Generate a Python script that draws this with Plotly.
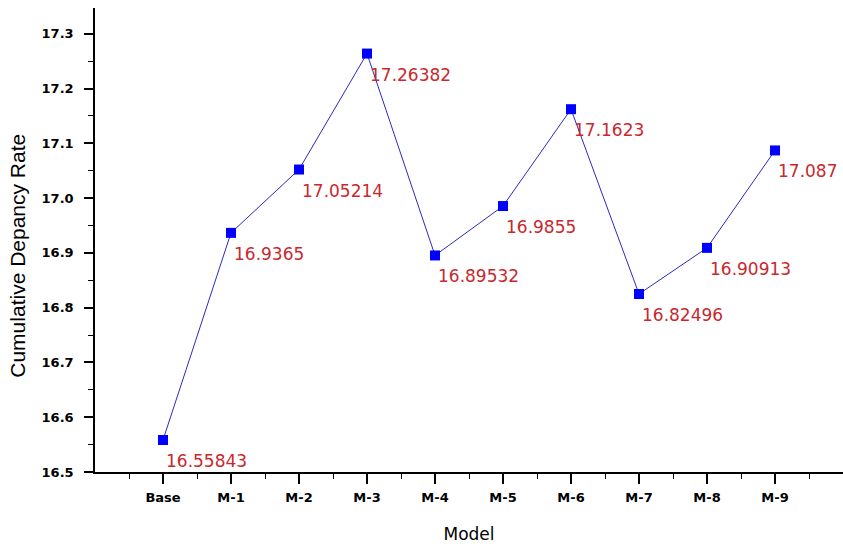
import plotly.graph_objects as go

categories = ["Base", "M-1", "M-2", "M-3", "M-4", "M-5", "M-6", "M-7", "M-8", "M-9"]
values = [16.55843, 16.9365, 17.05214, 17.26382, 16.89532, 16.9855, 17.1623, 16.82496, 16.90913, 17.087]
labels = ["16.55843", "16.9365", "17.05214", "17.26382", "16.89532", "16.9855", "17.1623", "16.82496", "16.90913", "17.087"]
y_ticks = [16.5, 16.6, 16.7, 16.8, 16.9, 17.0, 17.1, 17.2, 17.3]
y_title = "Cumulative Depancy Rate"

xpos = list(range(len(categories)))

fig = go.Figure()
fig.add_trace(go.Scatter(
    x=xpos, y=values, mode="lines+markers",
    line=dict(color="#2a2ac0", width=1),
    marker=dict(symbol="square", size=10, color="#0000ff"),
    showlegend=False,
))

for xi, v, t in zip(xpos, values, labels):
    fig.add_annotation(x=xi, y=v, text=t, showarrow=False,
                       xanchor="left", yanchor="top", xshift=1, yshift=-9,
                       font=dict(family="DejaVu Sans", size=17, color="#c8282d"))

fig.add_annotation(x=-0.103, y=0.466, xref="paper", yref="paper", text=y_title,
                   textangle=-90, showarrow=False, xanchor="center", yanchor="middle",
                   font=dict(family="Liberation Sans, Arial", size=21, color="black"))

fig.update_layout(
    width=843, height=544,
    margin=dict(l=95, r=0, t=8, b=72),
    plot_bgcolor="white", paper_bgcolor="white",
    font=dict(family="Liberation Sans, Arial", color="black"),
)
fig.update_xaxes(
    range=[-1, 10], tickmode="array", tickvals=xpos, ticktext=categories,
    showgrid=False, zeroline=False, showline=True, linecolor="black", linewidth=1.5,
    ticks="outside", ticklen=10, tickwidth=1.5, tickcolor="black",
    ticklabelstandoff=3,
    tickfont=dict(family="DejaVu Sans", size=13, weight="bold"),
    minor=dict(tickvals=[x - 0.5 for x in range(0, 12)], ticks="outside", ticklen=5, tickwidth=1, tickcolor="black", showgrid=False),
    title=dict(text="Model", font=dict(family="DejaVu Sans", size=17), standoff=24),
    automargin=False,
)
fig.update_yaxes(
    range=[16.5, 17.347], tickmode="array", tickvals=y_ticks,
    ticktext=[f"{v:.1f}" for v in y_ticks],
    showgrid=False, zeroline=False, showline=True, linecolor="black", linewidth=1.5,
    ticks="outside", ticklen=9, tickwidth=1.5, tickcolor="black",
    ticklabelstandoff=8,
    tickfont=dict(family="DejaVu Sans", size=13, weight="bold"),
    minor=dict(tickvals=[16.55 + 0.1 * i for i in range(8)], ticks="outside", ticklen=5, tickwidth=1, tickcolor="black", showgrid=False),
    automargin=False,
)

fig.write_html("out.html", config={"displayModeBar": False},
               post_script="document.body.style.margin='0';document.body.style.overflow='hidden';")
